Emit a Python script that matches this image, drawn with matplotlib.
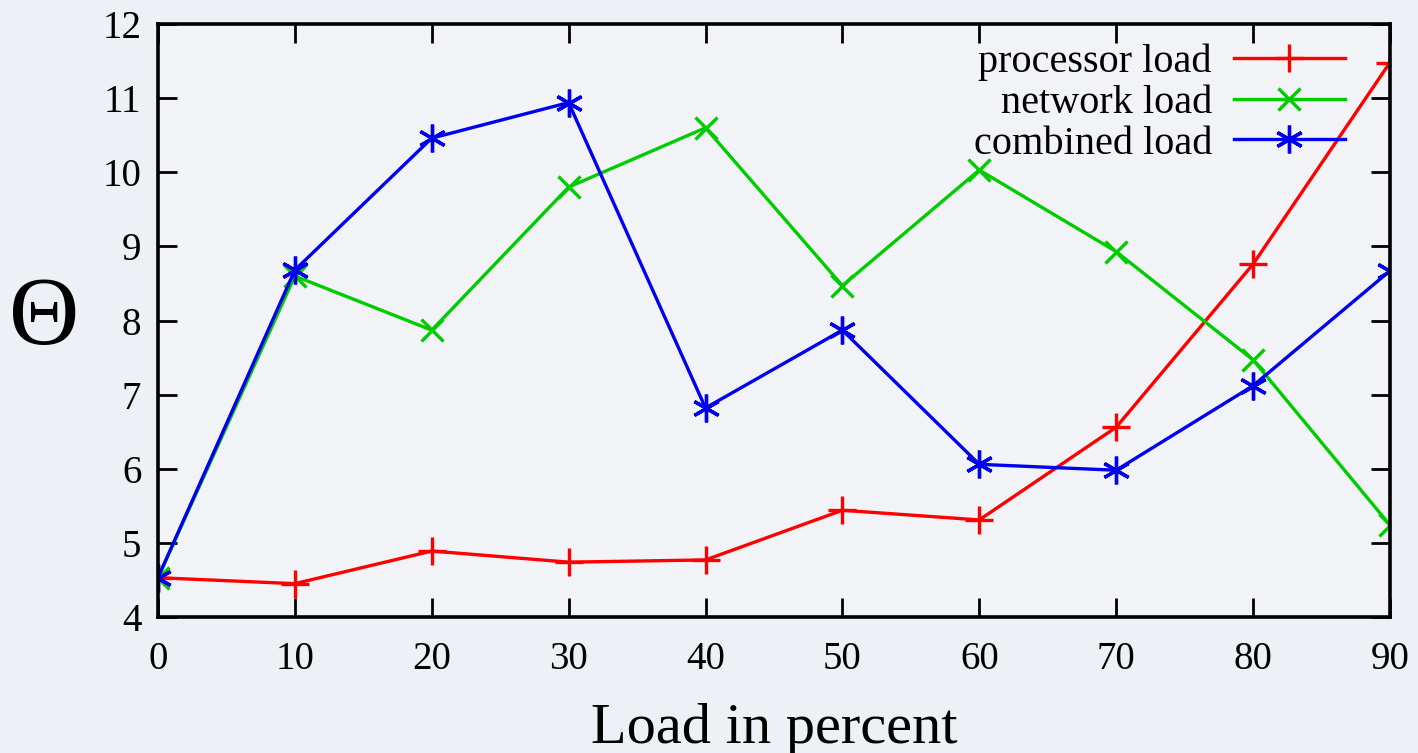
import numpy as np
import matplotlib.pyplot as plt

# values
load = [0, 10, 20, 30, 40, 50, 60, 70, 80, 90]
processor = [4.53, 4.45, 4.89, 4.74, 4.77, 5.44, 5.31, 6.56, 8.76, 11.48]
network = [4.53, 8.60, 7.87, 9.80, 10.60, 8.47, 10.03, 8.93, 7.47, 5.24]
combined = [4.53, 8.68, 10.46, 10.94, 6.82, 7.87, 6.06, 5.98, 7.12, 8.67]

plt.rcParams['font.family'] = ['Liberation Serif', 'DejaVu Serif']

fig = plt.figure(figsize=(14.18, 7.53), dpi=100, facecolor='#edf0f4')
ax = fig.add_axes([0.1114, 0.1806, 0.8688, 0.7875])
ax.set_facecolor('#f1f3f6')

ax.plot(load, processor, color='#ff0000', lw=2.4, marker='+', ms=20, mew=2.4,
        label='processor load')
ax.plot(load, network, color='#00cc00', lw=2.4, marker='x', ms=16, mew=2.4,
        label='network load')
ax.plot(load, combined, color='#0000ee', lw=2.4, marker=(6, 2, 0), ms=20, mew=2.4,
        label='combined load')

ax.set_xlim(0, 90)
ax.set_ylim(4, 12)
ax.set_xticks(load)
ax.set_yticks(range(4, 13))
ax.tick_params(direction='in', length=14, width=2, labelsize=28,
               top=True, right=True, pad=12)
ax.tick_params(axis='x', pad=17)
for s in ax.spines.values():
    s.set_linewidth(2.6)

ax.set_xlabel('Load in percent', fontsize=42, labelpad=18)
ax.set_ylabel('\u0398', fontsize=70, rotation=0, labelpad=42, va='center')

ax.legend(loc='upper right', frameon=False, markerfirst=False, fontsize=29,
          handlelength=2.75, handletextpad=0.55, labelspacing=0.09,
          borderaxespad=0.2, bbox_to_anchor=(0.983, 1.008))

fig.savefig('out.png', dpi=100, facecolor=fig.get_facecolor())
